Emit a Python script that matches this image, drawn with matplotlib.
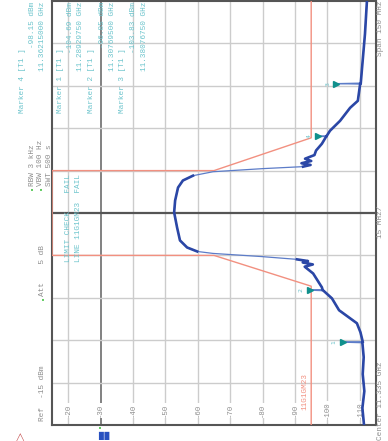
import numpy as np
import matplotlib
matplotlib.use("Agg")
import matplotlib.pyplot as plt

# spectrum trace, frequency in MHz, level in dBm
trace_freq = np.array([
    11260.0, 11266.0, 11272.0, 11278.0, 11284.0, 11289.1, 11289.3, 11289.5,
    11292.8, 11296.0, 11300.6, 11304.8, 11307.5, 11307.7, 11307.9, 11308.7,
    11313.6, 11316.0, 11316.8, 11317.5, 11318.0, 11318.6, 11319.6, 11320.7,
    11321.4, 11322.8, 11325.3, 11329.9, 11335.2, 11339.4, 11344.0, 11346.5,
    11348.2, 11349.6, 11350.7, 11351.4, 11352.0, 11352.6, 11353.4, 11354.2,
    11355.5, 11357.1, 11359.5, 11362.0, 11362.15, 11362.3, 11364.1, 11367.6,
    11372.2, 11374.7, 11380.6, 11380.77, 11380.95, 11386.4, 11398.4, 11410.0,
])
trace_level = np.array([
    -111.3, -110.8, -111.4, -110.9, -111.2, -110.8, -104.7, -110.9,
    -110.2, -109.1, -103.6, -101.4, -98.8, -94.5, -98.5, -98.3,
    -95.6, -93.0, -95.5, -92.4, -94.0, -90.6, -79.5, -64.7,
    -59.8, -56.7, -54.5, -53.6, -52.7, -53.0, -53.9, -55.4,
    -58.5, -64.7, -80.1, -92.5, -94.8, -92.0, -95.0, -93.1,
    -96.0, -96.5, -98.3, -99.6, -97.0, -99.8, -100.8, -103.9,
    -107.0, -109.4, -110.1, -102.7, -110.3, -110.7, -111.6, -112.2,
])

# limit line 11G1GM23
limit_freq = [11260.0, 11309.1, 11320.0, 11320.0, 11350.0, 11350.0, 11361.6, 11410.0]
limit_level = [-95.0, -95.0, -65.0, -15.0, -15.0, -65.0, -95.0, -95.0]

marker_ids = [1, 2, 3, 4]
marker_freq = [11289.3, 11307.7, 11380.77, 11362.15]
marker_level = [-104.7, -94.5, -102.7, -97.0]
marker_text = [
    ("Marker 1 [T1 ]", "-104.69 dBm", "11.28929750 GHz"),
    ("Marker 2 [T1 ]", "-96.85 dBm", "11.30769500 GHz"),
    ("Marker 3 [T1 ]", "-103.83 dBm", "11.38076750 GHz"),
    ("Marker 4 [T1 ]", "-98.15 dBm", "11.36215000 GHz"),
]

level_ticks = [-20, -30, -40, -50, -60, -70, -80, -90, -100, -110]
ref_level, bottom_level = -15, -115
center, span = 11335.0, 150.0

W, H = 388, 441
CYAN = "#6cc4cc"
GREY = "#8e8e8e"
RED = "#f29080"
MONO = "Liberation Mono"


def fx(px):
    return px / W


def fy(py):
    return 1 - py / H


fig = plt.figure(figsize=(W / 100, H / 100), dpi=100)
ax = fig.add_axes([fx(52), fy(425), (376 - 52) / W, 424 / H])
ax.set_xlim(ref_level, bottom_level)
ax.set_ylim(center - span / 2, center + span / 2)
ax.set_xticks([])
ax.set_yticks([])
for s in ax.spines.values():
    s.set_color("#555555")
    s.set_linewidth(1.5)

# graticule
for lv in level_ticks:
    c, lw = ("#777777", 1.3) if lv == -30 else ("#cccccc", 1.0)
    ax.axvline(lv, color=c, lw=lw, zorder=1)
for k in range(1, 10):
    f = center - span / 2 + k * span / 10
    c, lw = ("#555555", 1.6) if k == 5 else ("#cccccc", 1.0)
    ax.axhline(f, color=c, lw=lw, zorder=1)

for lv in level_ticks:
    ax.text(lv, 0.035, str(lv), transform=ax.get_xaxis_transform(), rotation=90,
            ha="center", va="center", fontsize=5.3, family=MONO, color=GREY,
            bbox=dict(facecolor="white", edgecolor="none", pad=0.6), zorder=2)

# limit line
ax.plot(limit_level, limit_freq, color=RED, lw=1.0, zorder=3)
ax.text(-93.2, 11272.0, "11G1GM23", rotation=90, ha="center", va="center",
        fontsize=5.5, family=MONO, color=RED, zorder=3)

# trace: thin everywhere, thick where the slope is gentle
ax.plot(trace_level, trace_freq, color="#5c7cc8", lw=0.9, zorder=4)
steep = ((trace_freq > 11319.0) & (trace_freq < 11321.0)) | \
        ((trace_freq > 11349.0) & (trace_freq < 11351.0))
for mf in marker_freq:
    steep |= np.abs(trace_freq - mf) < 0.05
thick = np.ma.masked_where(steep, trace_level)
ax.plot(thick, trace_freq, color="#2b47a6", lw=1.9, zorder=5)

# markers
for n, mf, ml in zip(marker_ids, marker_freq, marker_level):
    ax.plot(ml, mf, marker=">", color="#10908c", ms=4, zorder=6)
    ax.annotate(str(n), (ml, mf), xytext=(-6, 0), textcoords="offset points",
                rotation=90, ha="center", va="center", fontsize=4.5,
                color=CYAN, zorder=6)

# marker info blocks (text runs bottom to top)
block_x = {4: 22, 1: 60, 2: 91.5, 3: 123}
fs = 5.6
for n, (l1, l2, l3) in zip(marker_ids, marker_text):
    x0 = block_x[n]
    fig.text(fx(x0), fy(113), l1, rotation=90, ha="center", va="bottom",
             fontsize=fs, family=MONO, color=CYAN)
    fig.text(fx(x0 + 10.5), fy(2), l2, rotation=90, ha="center", va="top",
             fontsize=fs, family=MONO, color=CYAN)
    fig.text(fx(x0 + 21), fy(2), l3, rotation=90, ha="center", va="top",
             fontsize=fs, family=MONO, color=CYAN)

fig.text(fx(68), fy(262), "LIMIT CHECK    FAIL", rotation=90, ha="center",
         va="bottom", fontsize=fs, family=MONO, color=CYAN)
fig.text(fx(78.5), fy(262), "LINE 11G1GM23  FAIL", rotation=90, ha="center",
         va="bottom", fontsize=fs, family=MONO, color=CYAN)

# instrument settings
fig.text(fx(43), fy(421), "Ref  -15 dBm", rotation=90, ha="center", va="bottom",
         fontsize=fs, family=MONO, color=GREY)
fig.text(fx(43), fy(296), "Att    5 dB", rotation=90, ha="center", va="bottom",
         fontsize=fs, family=MONO, color=GREY)
fig.text(fx(32), fy(186), "RBW 3 kHz", rotation=90, ha="center", va="bottom",
         fontsize=fs, family=MONO, color=GREY)
fig.text(fx(41), fy(186), "VBW 100 Hz", rotation=90, ha="center", va="bottom",
         fontsize=fs, family=MONO, color=GREY)
fig.text(fx(50), fy(186), "SWT 500 s", rotation=90, ha="center", va="bottom",
         fontsize=fs, family=MONO, color=GREY)
for px, py in [(43, 301), (32, 191), (41, 191)]:
    fig.text(fx(px), fy(py), "\u2022", ha="center", va="center", fontsize=5,
             color="#3cc03c")

fig.text(fx(381), fy(440), "Center 11.335 GHz", rotation=90, ha="center",
         va="bottom", fontsize=fs, family=MONO, color=GREY)
fig.text(fx(381), fy(222), "15 MHz/", rotation=90, ha="center", va="center",
         fontsize=fs, family=MONO, color=GREY)
fig.text(fx(381), fy(1), "Span 150 MHz", rotation=90, ha="center", va="top",
         fontsize=fs, family=MONO, color=GREY)

# status icons at the lower edge
fig.text(fx(20), fy(437), "\u25b3", ha="center", va="center", fontsize=8,
         color="#c04040")
fig.text(fx(105), fy(436), "\u258a\u258a", ha="center", va="center", fontsize=6,
         color="#2850c0")
fig.text(fx(100), fy(429), "\u2022", ha="center", va="center", fontsize=5,
         color="#3cc03c")

fig.savefig("out.png", dpi=100)
